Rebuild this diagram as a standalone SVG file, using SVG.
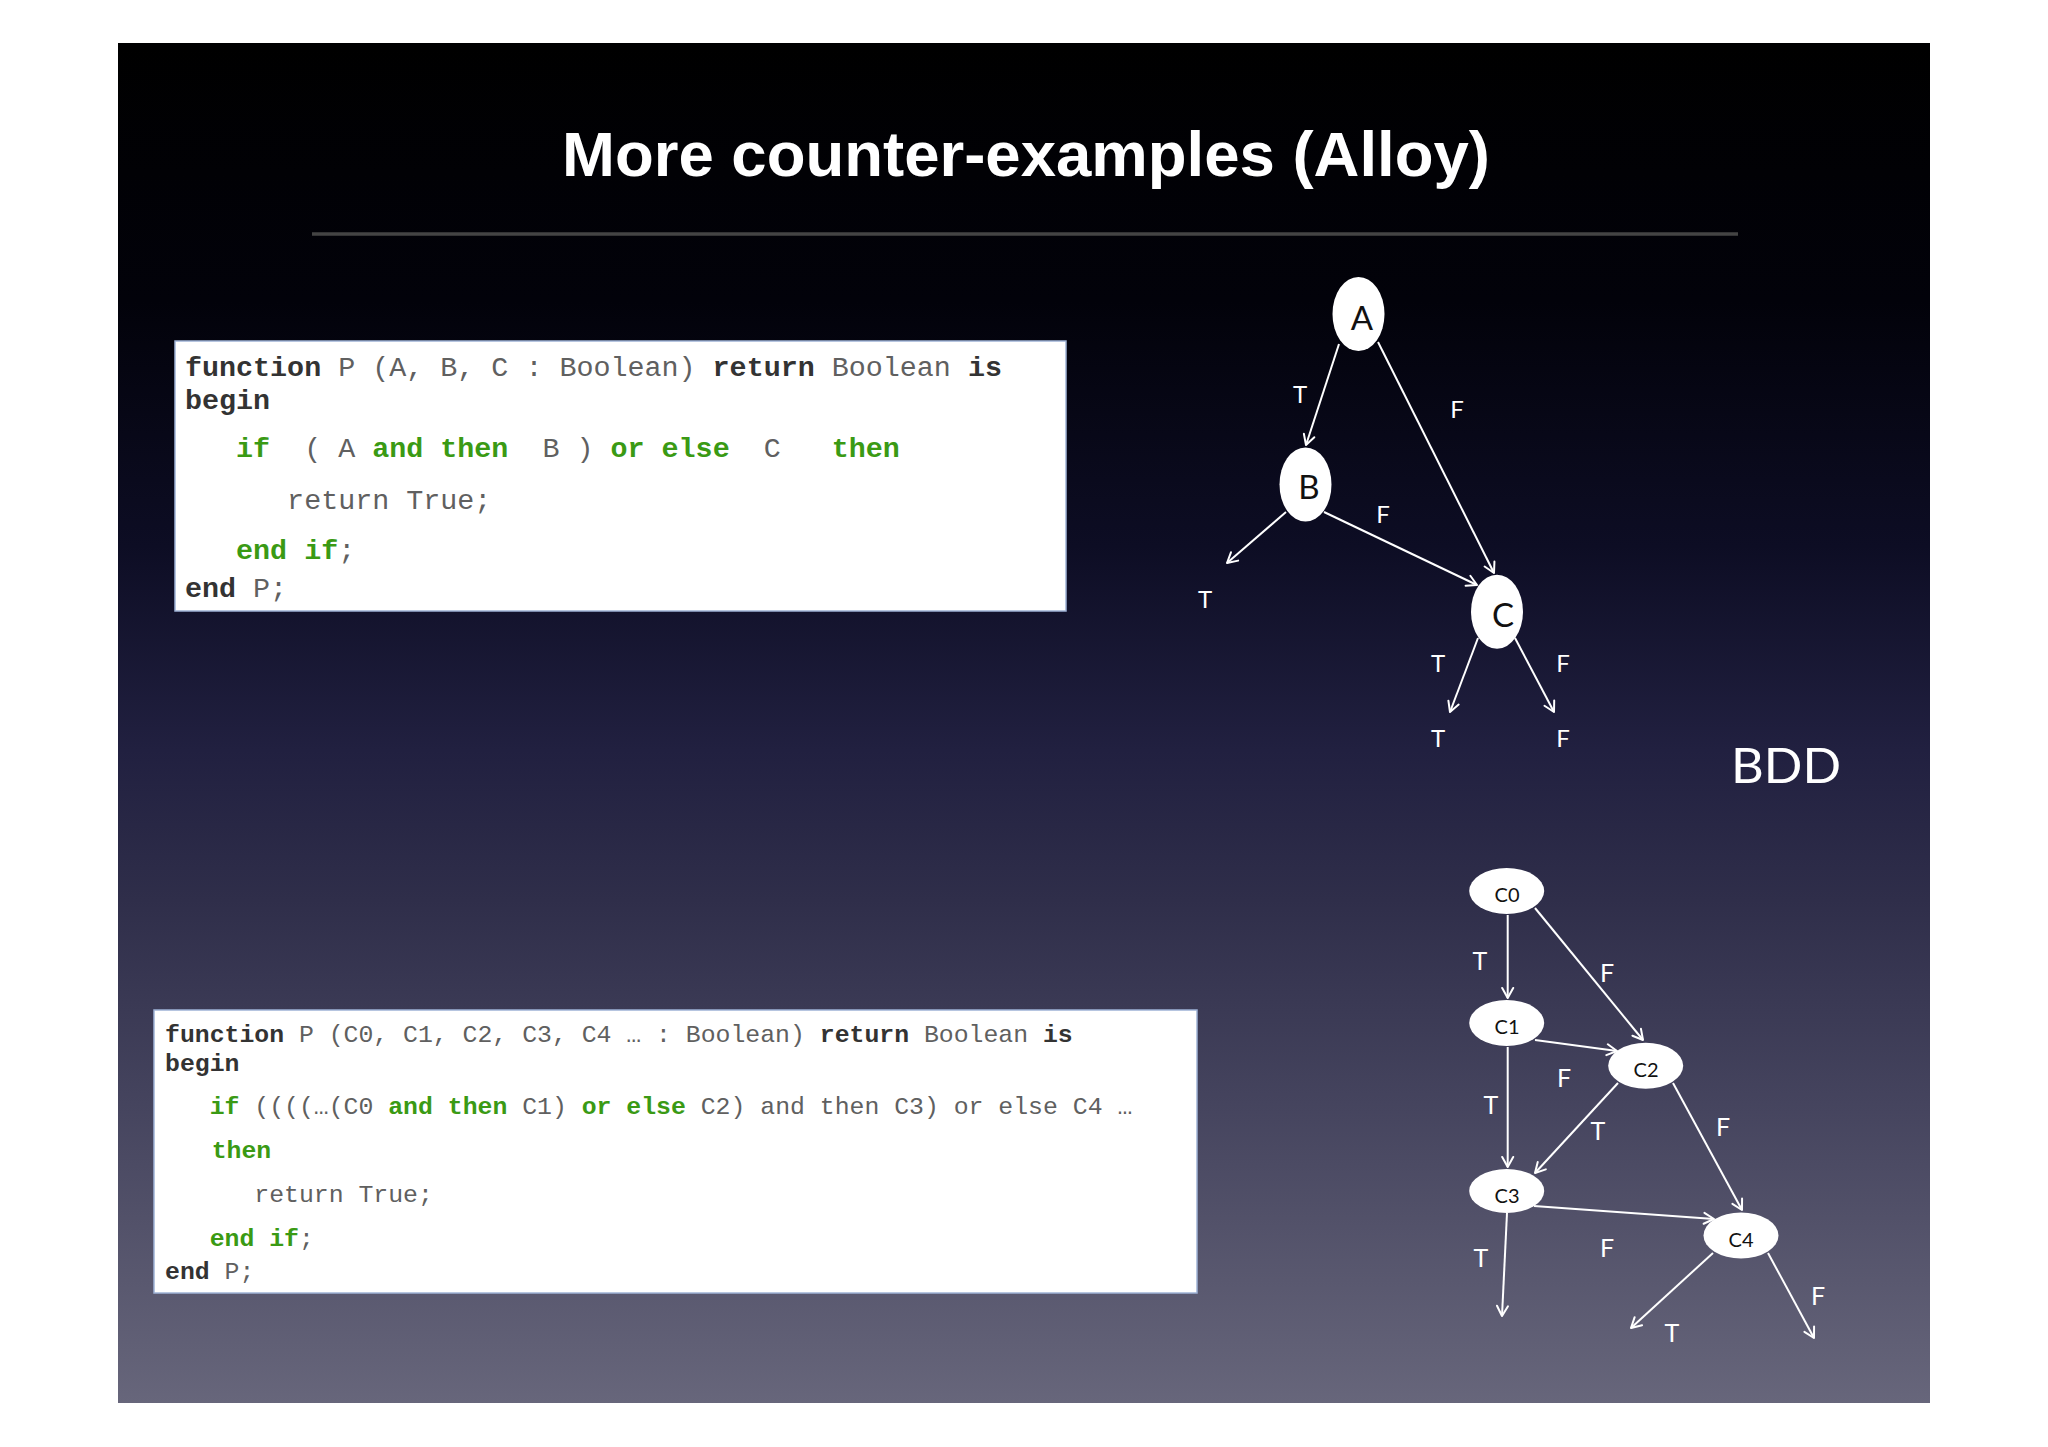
<svg xmlns="http://www.w3.org/2000/svg" width="2048" height="1447" viewBox="0 0 2048 1447">
  <defs>
    <linearGradient id="bg" gradientUnits="userSpaceOnUse" x1="0" y1="43" x2="0" y2="1403">
      <stop offset="0" stop-color="#000000"/>
      <stop offset="0.19" stop-color="#02020a"/>
      <stop offset="0.37" stop-color="#0d0d24"/>
      <stop offset="0.52" stop-color="#212040"/>
      <stop offset="0.63" stop-color="#2f2e4a"/>
      <stop offset="0.78" stop-color="#45445e"/>
      <stop offset="1" stop-color="#67667b"/>
    </linearGradient>
    <marker id="arr" viewBox="0 0 14 14" refX="12" refY="7" markerWidth="14" markerHeight="14" markerUnits="userSpaceOnUse" orient="auto">
      <path d="M2,1.5 L12,7 L2,12.5" fill="none" stroke="#ffffff" stroke-width="2" stroke-linecap="round" stroke-linejoin="round"/>
    </marker>
  </defs>
  <style>
    .title { font-family: "Liberation Sans", Arial, sans-serif; font-weight: bold; font-size: 63.5px; fill: #ffffff; }
    .box { fill: #ffffff; stroke: #9fb3d6; stroke-width: 1.5; }
    .code1 { font-family: "Liberation Mono", "Courier New", monospace; font-size: 28.37px; fill: #606060; }
    .code2 { font-family: "Liberation Mono", "Courier New", monospace; font-size: 24.8px; fill: #606060; }
    .kw { font-weight: bold; fill: #333333; }
    .gk { font-weight: bold; fill: #3a9a14; }
    .node { fill: #ffffff; }
    .nlbl { font-family: Lato, "Open Sans", sans-serif; font-size: 33px; fill: #111111; text-anchor: middle; }
    .nlbl2 { font-family: Lato, "Open Sans", sans-serif; font-size: 20px; fill: #111111; text-anchor: middle; }
    .elbl { font-family: Lato, "Open Sans", sans-serif; font-size: 24px; fill: #ffffff; text-anchor: middle; }
    .elbl2 { font-family: Lato, "Open Sans", sans-serif; font-size: 25px; fill: #ffffff; text-anchor: middle; }
    .edge { stroke: #ffffff; stroke-width: 2; fill: none; marker-end: url(#arr); }
    .bdd { font-family: Lato, "Open Sans", sans-serif; font-size: 48px; fill: #ffffff; }
  </style>

  <rect x="0" y="0" width="2048" height="1447" fill="#ffffff"/>
  <rect id="slide" x="118" y="43" width="1812" height="1360" fill="url(#bg)"/>

  <text class="title" x="1026" y="176" text-anchor="middle">More counter-examples (Alloy)</text>
  <line x1="312" y1="234" x2="1738" y2="234" stroke="#444444" stroke-width="3.5"/>

  <g id="code-box-1">
    <rect class="box" x="175" y="341" width="891" height="270"/>
    <text class="code1" x="185" y="376" xml:space="preserve"><tspan class="kw">function</tspan> P (A, B, C : Boolean) <tspan class="kw">return</tspan> Boolean <tspan class="kw">is</tspan></text>
    <text class="code1" x="185" y="409" xml:space="preserve"><tspan class="kw">begin</tspan></text>
    <text class="code1" x="185" y="457" xml:space="preserve">   <tspan class="gk">if</tspan>  ( A <tspan class="gk">and then</tspan>  B ) <tspan class="gk">or else</tspan>  C   <tspan class="gk">then</tspan></text>
    <text class="code1" x="185" y="509" xml:space="preserve">      return True;</text>
    <text class="code1" x="185" y="559" xml:space="preserve">   <tspan class="gk">end if</tspan>;</text>
    <text class="code1" x="185" y="597" xml:space="preserve"><tspan class="kw">end</tspan> P;</text>
  </g>

  <g id="code-box-2">
    <rect class="box" x="154" y="1010" width="1043" height="283"/>
    <text class="code2" x="165" y="1042" xml:space="preserve"><tspan class="kw">function</tspan> P (C0, C1, C2, C3, C4 … : Boolean) <tspan class="kw">return</tspan> Boolean <tspan class="kw">is</tspan></text>
    <text class="code2" x="165" y="1071" xml:space="preserve"><tspan class="kw">begin</tspan></text>
    <text class="code2" x="165" y="1114" xml:space="preserve">   <tspan class="gk">if</tspan> ((((…(C0 <tspan class="gk">and then</tspan> C1) <tspan class="gk">or else</tspan> C2) and then C3) or else C4 …</text>
    <text class="code2" x="167" y="1158" xml:space="preserve">   <tspan class="gk">then</tspan></text>
    <text class="code2" x="165" y="1202" xml:space="preserve">      return True;</text>
    <text class="code2" x="165" y="1246" xml:space="preserve">   <tspan class="gk">end if</tspan>;</text>
    <text class="code2" x="165" y="1279" xml:space="preserve"><tspan class="kw">end</tspan> P;</text>
  </g>

  <g id="connectors">
    <!-- top BDD -->
    <line class="edge" x1="1339" y1="344" x2="1306" y2="445"/>
    <line class="edge" x1="1378" y1="342" x2="1494" y2="573"/>
    <line class="edge" x1="1286" y1="512" x2="1227" y2="563"/>
    <line class="edge" x1="1324" y1="512" x2="1477" y2="585"/>
    <line class="edge" x1="1478" y1="638" x2="1450" y2="712"/>
    <line class="edge" x1="1515" y1="638" x2="1554" y2="712"/>
    <!-- bottom BDD -->
    <line class="edge" x1="1507.7" y1="915" x2="1507.7" y2="998"/>
    <line class="edge" x1="1535" y1="908" x2="1643" y2="1040"/>
    <line class="edge" x1="1535" y1="1040" x2="1617" y2="1051"/>
    <line class="edge" x1="1507.7" y1="1047" x2="1507.7" y2="1167"/>
    <line class="edge" x1="1618" y1="1083" x2="1535" y2="1173"/>
    <line class="edge" x1="1673" y1="1083" x2="1742" y2="1210"/>
    <line class="edge" x1="1534" y1="1206" x2="1714" y2="1219"/>
    <line class="edge" x1="1507" y1="1213" x2="1502" y2="1316"/>
    <line class="edge" x1="1713" y1="1253" x2="1631" y2="1328"/>
    <line class="edge" x1="1768" y1="1253" x2="1814" y2="1338"/>

    <!-- edge labels top -->
    <text class="elbl" x="1300" y="403">T</text>
    <text class="elbl" x="1457" y="418">F</text>
    <text class="elbl" x="1205" y="608">T</text>
    <text class="elbl" x="1383" y="523">F</text>
    <text class="elbl" x="1438" y="672">T</text>
    <text class="elbl" x="1438" y="747">T</text>
    <text class="elbl" x="1563" y="672">F</text>
    <text class="elbl" x="1563" y="747">F</text>
    <!-- edge labels bottom -->
    <text class="elbl2" x="1480" y="970">T</text>
    <text class="elbl2" x="1607" y="982">F</text>
    <text class="elbl2" x="1564" y="1087">F</text>
    <text class="elbl2" x="1491" y="1114">T</text>
    <text class="elbl2" x="1598" y="1140">T</text>
    <text class="elbl2" x="1723" y="1136">F</text>
    <text class="elbl2" x="1607" y="1257">F</text>
    <text class="elbl2" x="1481" y="1267">T</text>
    <text class="elbl2" x="1672" y="1342">T</text>
    <text class="elbl2" x="1818" y="1305">F</text>
  </g>

  <g id="node-A">
    <ellipse class="node" cx="1358.5" cy="314" rx="26" ry="37"/>
    <text class="nlbl" x="1362" y="330">A</text>
  </g>
  <g id="node-B">
    <ellipse class="node" cx="1305.5" cy="484.5" rx="26" ry="37"/>
    <text class="nlbl" x="1309" y="499">B</text>
  </g>
  <g id="node-C">
    <ellipse class="node" cx="1497" cy="611.7" rx="26" ry="37"/>
    <text class="nlbl" x="1503" y="627">C</text>
  </g>

  <g id="node-C0">
    <ellipse class="node" cx="1506.7" cy="891" rx="37.5" ry="23"/>
    <text class="nlbl2" x="1507" y="902">C0</text>
  </g>
  <g id="node-C1">
    <ellipse class="node" cx="1506.7" cy="1023" rx="37.5" ry="23"/>
    <text class="nlbl2" x="1507" y="1034">C1</text>
  </g>
  <g id="node-C2">
    <ellipse class="node" cx="1645.7" cy="1065.7" rx="37.5" ry="23"/>
    <text class="nlbl2" x="1646" y="1077">C2</text>
  </g>
  <g id="node-C3">
    <ellipse class="node" cx="1506.7" cy="1191" rx="37.5" ry="22"/>
    <text class="nlbl2" x="1507" y="1203">C3</text>
  </g>
  <g id="node-C4">
    <ellipse class="node" cx="1741" cy="1235.5" rx="37.5" ry="23"/>
    <text class="nlbl2" x="1741" y="1247">C4</text>
  </g>

  <text class="bdd" x="1731" y="783" textLength="110" lengthAdjust="spacingAndGlyphs">BDD</text>
</svg>
